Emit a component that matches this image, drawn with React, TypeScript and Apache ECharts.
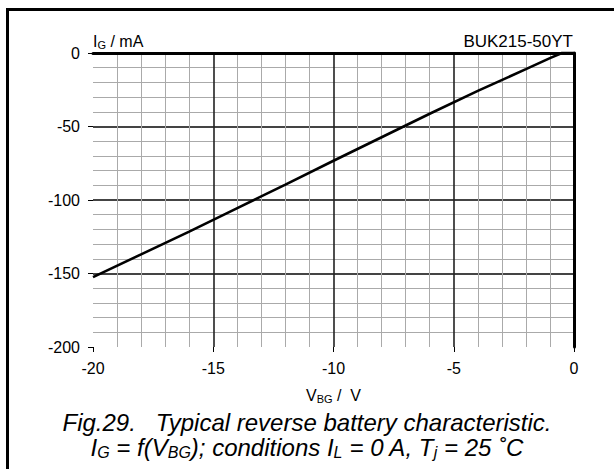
import React, { useEffect, useRef } from "react";
import * as echarts from "echarts";

// Reverse battery characteristic: V_BG (V) vs I_G (mA)
const vbg = [-20, -18, -16, -14, -12, -10, -8, -6, -4, -2, -1, -0.5, 0];
const ig = [-152.5, -137, -121.5, -105.5, -89.5, -73.3, -57.3, -41.3, -25.8, -11, -3.5, 0, 0];

const partNumber = "BUK215-50YT";
const captionLine1 = "Fig.29.   Typical reverse battery characteristic.";

const FONT = "'Liberation Sans', Arial, Helvetica, sans-serif";

export default function App() {
  const ref = useRef<HTMLDivElement>(null);

  useEffect(() => {
    if (!ref.current) return;
    const chart = echarts.init(ref.current, undefined, { renderer: "svg" });

    const nameRich = {
      a: { fontSize: 16, lineHeight: 18, color: "#000", fontFamily: FONT, fontWeight: "normal" },
      s: { fontSize: 11, lineHeight: 10, verticalAlign: "bottom", color: "#000", fontFamily: FONT, fontWeight: "normal" },
    };
    const capRich = {
      a: { fontSize: 24, lineHeight: 25, color: "#000", fontFamily: FONT, fontStyle: "italic", fontWeight: "normal" },
      s: { fontSize: 16, lineHeight: 13, verticalAlign: "bottom", color: "#000", fontFamily: FONT, fontStyle: "italic", fontWeight: "normal" },
    };

    const option: any = {
      animation: false,
      backgroundColor: "#fff",
      title: [
        {
          text: partNumber,
          right: 41,
          top: 33,
          padding: 0,
          textStyle: { fontSize: 17, fontWeight: "normal", color: "#000", fontFamily: FONT },
        },
        {
          text: "{a|" + captionLine1 + "}",
          left: "center",
          top: 410,
          padding: 0,
          textStyle: { rich: capRich, fontWeight: "normal" },
        },
        {
          text: "{a|I}{s|G}{a| = f(V}{s|BG}{a|); conditions I}{s|L}{a| = 0 A, T}{s|j}{a| = 25 ˚C}",
          left: "center",
          top: 435,
          padding: 0,
          textStyle: { rich: capRich, fontWeight: "normal" },
        },
      ],
      graphic: [
        {
          type: "rect",
          silent: true,
          shape: { x: 7.5, y: 9.5, width: 700, height: 600 },
          style: { fill: "none", stroke: "#000", lineWidth: 3 },
        },
      ],
      grid: { left: 93, top: 53, width: 481, height: 294, containLabel: false },
      xAxis: [
        {
          type: "value",
          min: -20,
          max: 0,
          interval: 5,
          position: "bottom",
          name: "{a|V}{s|BG}{a| /  V}",
          nameLocation: "middle",
          nameGap: 39,
          nameTextStyle: { rich: nameRich },
          axisLine: { show: false, onZero: false },
          axisTick: { show: true, length: 5, lineStyle: { color: "#000", width: 1 } },
          axisLabel: { color: "#000", fontSize: 16, margin: 13, fontFamily: FONT },
          splitLine: {
            show: true,
            showMinLine: false,
            showMaxLine: false,
            lineStyle: { color: "#222", width: 1.6 },
          },
          minorTick: { show: false, splitNumber: 5 },
          minorSplitLine: { show: true, lineStyle: { color: "#aaa", width: 1 } },
        },
        {
          type: "value",
          min: -20,
          max: 0,
          position: "top",
          axisLine: { show: true, onZero: false, lineStyle: { color: "#000", width: 3 } },
          axisTick: { show: false },
          axisLabel: { show: false },
          splitLine: { show: false },
        },
      ],
      yAxis: [
        {
          type: "value",
          min: -200,
          max: 0,
          interval: 50,
          position: "left",
          name: "{a|I}{s|G}{a| / mA}",
          nameLocation: "end",
          nameGap: 3,
          nameTextStyle: { rich: nameRich, align: "left", verticalAlign: "bottom" },
          axisLine: { show: false, onZero: false },
          axisTick: { show: true, length: 5, lineStyle: { color: "#000", width: 1 } },
          axisLabel: { color: "#000", fontSize: 16, margin: 13, fontFamily: FONT },
          splitLine: {
            show: true,
            showMinLine: false,
            showMaxLine: false,
            lineStyle: { color: "#444", width: 2 },
          },
          minorTick: { show: false, splitNumber: 5 },
          minorSplitLine: { show: true, lineStyle: { color: "#aaa", width: 1 } },
        },
        {
          type: "value",
          min: -200,
          max: 0,
          position: "right",
          axisLine: { show: true, onZero: false, lineStyle: { color: "#000", width: 3 } },
          axisTick: { show: false },
          axisLabel: { show: false },
          splitLine: { show: false },
        },
      ],
      series: [
        {
          type: "line",
          xAxisIndex: 0,
          yAxisIndex: 0,
          data: vbg.map((v, i) => [v, ig[i]]),
          showSymbol: false,
          symbol: "none",
          clip: false,
          lineStyle: { color: "#000", width: 2.6 },
        },
      ],
    };

    chart.setOption(option);
    return () => chart.dispose();
  }, []);

  return (
    <div
      ref={ref}
      style={{ position: "absolute", left: 0, top: 0, width: 614, height: 469, background: "#fff" }}
    />
  );
}
